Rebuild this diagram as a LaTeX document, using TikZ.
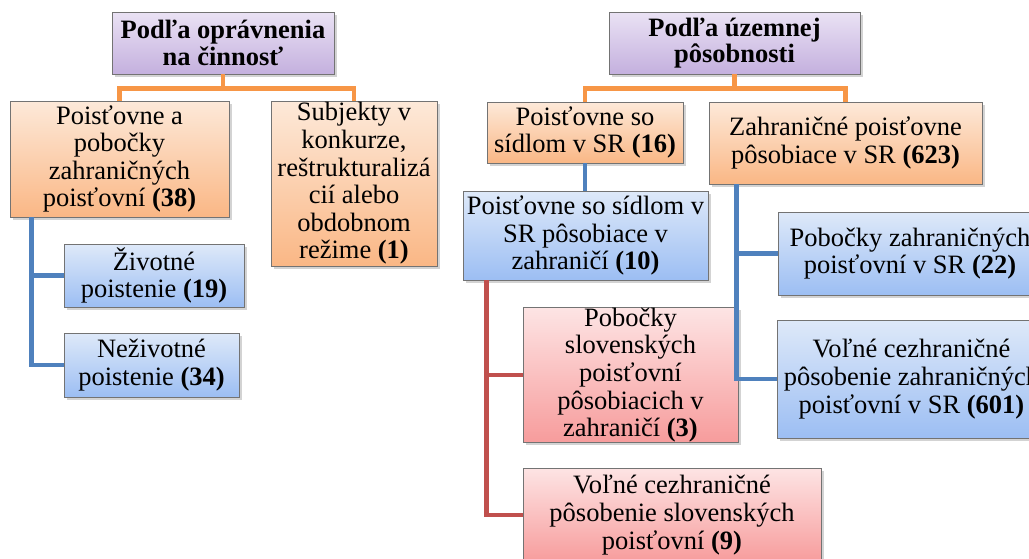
\documentclass[tikz,border=0pt]{standalone}
\usepackage{fontspec}
\setmainfont{Liberation Serif}
\usetikzlibrary{shadows}

\definecolor{ciaraOranz}{HTML}{F79646}
\definecolor{ciaraModra}{HTML}{4F81BD}
\definecolor{ciaraCervena}{HTML}{C0504D}

\begin{document}
\begin{tikzpicture}[x=1pt,y=-1pt,
	box/.style={draw=black!55, line width=0.7pt, align=center, inner sep=0pt,
		font=\fontsize{26.5}{27.6}\selectfont,
		drop shadow={shadow xshift=2.5pt, shadow yshift=-2.5pt, opacity=0.35}},
	koren/.style={box, font=\fontsize{26.5}{26.5}\selectfont\bfseries,
		top color={rgb,255:red,234;green,226;blue,244}, bottom color={rgb,255:red,196;green,176;blue,222}},
	oranzovy/.style={box, top color={rgb,255:red,253;green,233;blue,217}, bottom color={rgb,255:red,250;green,183;blue,133}},
	modry/.style={box, top color={rgb,255:red,222;green,233;blue,249}, bottom color={rgb,255:red,156;green,190;blue,243}},
	cerveny/.style={box, top color={rgb,255:red,253;green,228;blue,228}, bottom color={rgb,255:red,247;green,156;blue,156}},
	spoj/.style={line width=4.5pt}]
	
	\useasboundingbox (0,0) rectangle (1029,558);
	\clip (0,0) rectangle (1029,558);
	
	% Korene
	\node[koren, minimum width=222pt, minimum height=62pt] (opravnenie) at (223,43) {Podľa oprávnenia\\na činnosť};
	\node[koren, minimum width=251pt, minimum height=62pt] (uzemie) at (734.5,43) {Podľa územnej\\pôsobnosti};
	
	% Podľa oprávnenia
	\node[oranzovy, minimum width=219pt, minimum height=116pt] (pois38) at (119.5,159) {Poisťovne a\\pobočky\\zahraničných\\poisťovní \textbf{(38)}};
	\node[oranzovy, minimum width=166pt, minimum height=165pt] (subj1) at (354,183.5) {Subjekty v\\konkurze,\\reštrukturalizá\\cií alebo\\obdobnom\\režime \textbf{(1)}};
	\node[modry, minimum width=180pt, minimum height=63pt] (ziv19) at (154,275.5) {Životné\\poistenie \textbf{(19)}};
	\node[modry, minimum width=175pt, minimum height=64pt] (neziv34) at (151.5,365) {Neživotné\\poistenie \textbf{(34)}};
	
	% Podľa územnej pôsobnosti
	\node[oranzovy, minimum width=196pt, minimum height=61pt] (sidlo16) at (585,132.5) {Poisťovne so\\sídlom v SR \textbf{(16)}};
	\node[oranzovy, minimum width=273pt, minimum height=82pt] (zahr623) at (845.5,143) {Zahraničné poisťovne\\pôsobiace v SR \textbf{(623)}};
	\node[modry, minimum width=245pt, minimum height=89pt] (zahr10) at (585.5,235.5) {Poisťovne so sídlom v\\SR pôsobiace v\\zahraničí \textbf{(10)}};
	\node[modry, minimum width=264pt, minimum height=83pt] (pob22) at (910,253.5) {Pobočky zahraničných\\poisťovní v SR \textbf{(22)}};
	\node[modry, minimum width=269pt, minimum height=118pt] (vol601) at (911.5,379) {Voľné cezhraničné\\pôsobenie zahraničných\\poisťovní v SR \textbf{(601)}};
	\node[cerveny, minimum width=215pt, minimum height=134pt] (pob3) at (630.5,375) {Pobočky\\slovenských\\poisťovní\\pôsobiacich v\\zahraničí \textbf{(3)}};
	\node[cerveny, minimum width=298pt, minimum height=94pt] (vol9) at (672,515) {Voľné cezhraničné\\pôsobenie slovenských\\poisťovní \textbf{(9)}};
	
	% Spojnice
	\draw[spoj, ciaraOranz] (opravnenie.south) -- ++(0,14) -| (pois38.north);
	\draw[spoj, ciaraOranz] (opravnenie.south) -- ++(0,14) -| (subj1.north);
	\draw[spoj, ciaraOranz] (uzemie.south) -- ++(0,14) -| (sidlo16.north);
	\draw[spoj, ciaraOranz] (uzemie.south) -- ++(0,14) -| (zahr623.north);
	
	\draw[spoj, ciaraModra] ([xshift=22pt]pois38.south west) |- (ziv19.west);
	\draw[spoj, ciaraModra] ([xshift=22pt]pois38.south west) |- (neziv34.west);
	\draw[spoj, ciaraModra] (sidlo16.south) -- (sidlo16.south |- zahr10.north);
	\draw[spoj, ciaraModra] ([xshift=28pt]zahr623.south west) |- (pob22.west);
	\draw[spoj, ciaraModra] ([xshift=28pt]zahr623.south west) |- (vol601.west);
	
	\draw[spoj, ciaraCervena] ([xshift=24pt]zahr10.south west) |- (pob3.west);
	\draw[spoj, ciaraCervena] ([xshift=24pt]zahr10.south west) |- (vol9.west);
	
\end{tikzpicture}
\end{document}
